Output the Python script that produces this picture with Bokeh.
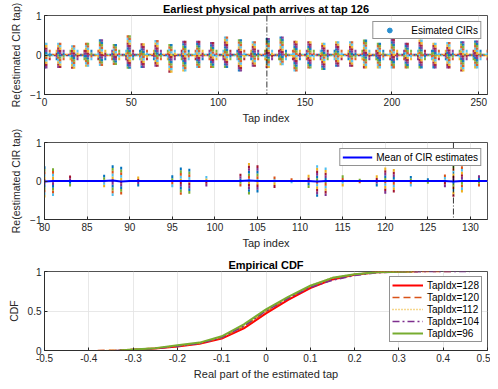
from bokeh.plotting import figure
from bokeh.layouts import column
from bokeh.models import ColumnDataSource, Span, Legend, LegendItem, Range1d, FixedTicker
from bokeh.embed import file_html
from bokeh.resources import INLINE

FONT = "Liberation Sans"
INK = "#262626"
GRID = "#e2e2e2"
SCATTER_COLORS = ["#0072BD", "#D95319", "#EDB120", "#7E2F8E", "#77AC30", "#4DBEEE", "#A2142F"]

# ---------------- data: top panel (taps 0..255) ----------------
top_title = "Earliest physical path arrives at tap 126"
top_n_taps = 256
top_cluster_taps = [0, 8, 16, 24, 32, 40, 48, 56, 64, 72, 80, 88, 96, 104, 112, 120,
                    128, 136, 144, 152, 160, 168, 176, 184, 192, 200, 208, 216, 224, 232, 240, 248]
top_cluster_hi = [0.31, 0.31, 0.25, 0.31, 0.40, 0.28, 0.50, 0.30, 0.38, 0.28, 0.36, 0.36, 0.33, 0.47, 0.40, 0.35,
                  0.43, 0.47, 0.36, 0.35, 0.31, 0.35, 0.35, 0.39, 0.31, 0.41, 0.31, 0.39, 0.31, 0.33, 0.35, 0.37]
top_cluster_lo = [-0.34, -0.33, -0.35, -0.30, -0.28, -0.25, -0.35, -0.33, -0.30, -0.45, -0.42, -0.33, -0.33, -0.33, -0.42, -0.30,
                  -0.33, -0.26, -0.42, -0.34, -0.38, -0.30, -0.30, -0.34, -0.34, -0.34, -0.34, -0.34, -0.34, -0.34, -0.42, -0.34]
top_second_offset = 1          # tap right after each cluster tap is as strong
top_minor_offsets = [3, 7]     # weaker taps inside each group of 8
top_minor_spread = 0.13
top_floor_spread = 0.03
first_path_tap = 128

# ---------------- data: middle panel (zoom on taps 80..132) ----------------
mid_taps = [80, 81, 83, 87, 88, 89, 91, 95, 96, 97, 99, 103, 104, 105, 107, 109, 111, 112, 113, 115,
            117, 119, 120, 121, 123, 125, 127, 128, 129, 131]
mid_hi = [0.38, 0.33, 0.14, 0.16, 0.41, 0.37, 0.12, 0.15, 0.35, 0.32, 0.13, 0.19, 0.47, 0.41, 0.12, 0.07, 0.16, 0.41, 0.35, 0.15,
          0.06, 0.15, 0.35, 0.31, 0.13, 0.07, 0.17, 0.40, 0.38, 0.15]
mid_lo = [-0.43, -0.39, -0.14, -0.16, -0.39, -0.35, -0.14, -0.16, -0.36, -0.33, -0.14, -0.14, -0.35, -0.30, -0.18, -0.06, -0.18, -0.41, -0.39, -0.14,
          -0.06, -0.14, -0.33, -0.30, -0.14, -0.07, -0.16, -0.41, -0.30, -0.14]
mid_floor_spread = 0.025
mean_taps = list(range(80, 133))
mean_vals = [-0.01, 0.00, 0.00, 0.00, 0.00, 0.00, 0.00, 0.00, 0.01, -0.01,
             0.00, 0.00, 0.00, 0.00, 0.00, 0.00, 0.00, 0.00, 0.00, 0.00,
             0.00, 0.00, 0.00, 0.00, 0.01, 0.00, 0.00, 0.00, 0.00, 0.00,
             0.00, 0.00, -0.01, 0.00, 0.00, 0.00, 0.00, 0.00, 0.00, 0.00,
             0.00, 0.00, 0.00, 0.00, 0.00, 0.00, 0.00, 0.00, -0.01, 0.00,
             0.00, 0.00, 0.00]

# ---------------- data: bottom panel (empirical CDFs) ----------------
cdf_labels = ["TapIdx=128", "TapIdx=120", "TapIdx=112", "TapIdx=104", "TapIdx=96"]
cdf_x_128 = [-0.33, -0.30, -0.25, -0.20, -0.15, -0.10, -0.05, 0.00, 0.05, 0.10, 0.15, 0.20, 0.25, 0.30, 0.33]
cdf_y_128 = [0.0, 0.010, 0.025, 0.050, 0.085, 0.150, 0.280, 0.470, 0.640, 0.790, 0.900, 0.960, 0.990, 0.997, 1.0]
cdf_x_120 = [-0.38, -0.34, -0.30, -0.25, -0.20, -0.15, -0.10, -0.05, 0.00, 0.05, 0.10, 0.15, 0.20, 0.25, 0.30, 0.34, 0.42]
cdf_y_120 = [0.0, 0.003, 0.012, 0.028, 0.055, 0.090, 0.160, 0.300, 0.490, 0.660, 0.810, 0.910, 0.960, 0.990, 0.997, 0.999, 1.0]
cdf_x_112 = [-0.36, -0.30, -0.25, -0.20, -0.15, -0.10, -0.05, 0.00, 0.05, 0.10, 0.15, 0.20, 0.25, 0.30, 0.35]
cdf_y_112 = [0.0, 0.014, 0.030, 0.060, 0.095, 0.170, 0.310, 0.500, 0.670, 0.820, 0.920, 0.965, 0.990, 0.998, 1.0]
cdf_x_104 = [-0.34, -0.30, -0.25, -0.20, -0.15, -0.10, -0.05, 0.00, 0.05, 0.10, 0.15, 0.20, 0.25, 0.30, 0.35, 0.46]
cdf_y_104 = [0.0, 0.010, 0.025, 0.055, 0.090, 0.165, 0.310, 0.500, 0.660, 0.800, 0.890, 0.950, 0.985, 0.996, 0.999, 1.0]
cdf_x_96 = [-0.33, -0.30, -0.25, -0.20, -0.15, -0.10, -0.05, 0.00, 0.05, 0.10, 0.15, 0.20, 0.25, 0.30, 0.33]
cdf_y_96 = [0.0, 0.012, 0.030, 0.065, 0.100, 0.180, 0.330, 0.520, 0.680, 0.820, 0.920, 0.965, 0.990, 0.998, 1.0]
cdf_xs = [cdf_x_128, cdf_x_120, cdf_x_112, cdf_x_104, cdf_x_96]
cdf_ys = [cdf_y_128, cdf_y_120, cdf_y_112, cdf_y_104, cdf_y_96]
cdf_colors = ["#FF0000", "#D95319", "#EDB120", "#7E2F8E", "#77AC30"]
cdf_dashes = ["solid", "7 4", "1 2", "7 3 2 3", "solid"]
cdf_widths = [2, 1.6, 1.6, 1.6, 2]

W = 490
LEFT = 44
RIGHT = 3


def build_strips(taps, los, his, step, phase):
    xs, ys, hs, cs = [], [], [], []
    for t, lo, hi in zip(taps, los, his):
        n = max(1, int(round((hi - lo) / step)))
        h = (hi - lo) / n
        for i in range(n):
            xs.append(t)
            ys.append(lo + h * (i + 0.5))
            hs.append(h)
            cs.append(SCATTER_COLORS[(t * phase + i * 3) % 7])
    return ColumnDataSource(dict(x=xs, y=ys, h=hs, c=cs))


def style(p):
    p.outline_line_color = INK
    p.outline_line_width = 0.8
    p.outline_line_alpha = 1
    for ax in p.axis:
        ax.axis_line_color = INK
        ax.axis_line_width = 0.8
        ax.major_tick_line_color = INK
        ax.major_tick_in = 3
        ax.major_tick_out = 0
        ax.minor_tick_line_color = None
        ax.major_label_text_font = FONT
        ax.major_label_text_font_size = "10px"
        ax.major_label_text_color = INK
        ax.axis_label_text_font = FONT
        ax.axis_label_text_font_size = "11px"
        ax.axis_label_text_font_style = "normal"
        ax.axis_label_text_color = INK
        ax.major_label_standoff = 3
        ax.axis_label_standoff = 3
    p.yaxis.axis_label_text_font_size = "10.5px"
    p.yaxis.axis_label_standoff = 5
    p.grid.grid_line_color = GRID
    p.grid.grid_line_width = 0.8
    if p.title is not None:
        p.title.text_font = FONT
        p.title.text_font_size = "11px"
        p.title.text_font_style = "bold"
        p.title.text_color = "#000000"
        p.title.align = "center"
        p.title.standoff = 1


def style_legend(leg, glyph_w, standoff):
    leg.border_line_color = INK
    leg.border_line_width = 0.8
    leg.background_fill_color = "white"
    leg.background_fill_alpha = 1
    leg.label_text_font = FONT
    leg.label_text_font_size = "10px"
    leg.label_text_color = "#000000"
    leg.padding = 2
    leg.spacing = 0
    leg.margin = 6
    leg.glyph_width = glyph_w
    leg.glyph_height = 12
    leg.label_height = 12
    leg.label_standoff = standoff
    leg.location = "top_right"


# ---------------- top panel ----------------
floor_taps, minor_taps, major_taps, major_hi, major_lo = [], [], [], [], []
special = set()
for t0, hi, lo in zip(top_cluster_taps, top_cluster_hi, top_cluster_lo):
    for off in (0, top_second_offset):
        major_taps.append(t0 + off)
        major_hi.append(hi)
        major_lo.append(lo)
        special.add(t0 + off)
    for off in top_minor_offsets:
        minor_taps.append(t0 + off)
        special.add(t0 + off)
for t in range(top_n_taps):
    if t not in special:
        floor_taps.append(t)

p1 = figure(width=W, height=126, x_range=Range1d(0, 255), y_range=Range1d(-1, 1),
            output_backend="svg", toolbar_location=None, title=top_title,
            min_border_left=LEFT, min_border_right=RIGHT, min_border_top=14, min_border_bottom=30)
src_floor = build_strips(floor_taps, [-top_floor_spread] * len(floor_taps), [top_floor_spread] * len(floor_taps), 0.03, 1)
src_minor = build_strips(minor_taps, [-top_minor_spread] * len(minor_taps), [top_minor_spread] * len(minor_taps), 0.06, 2)
src_major = build_strips(major_taps, major_lo, major_hi, 0.06, 3)
for src, w in ((src_floor, 2.0), (src_minor, 2.0), (src_major, 2.5)):
    p1.rect(x="x", y="y", width=w, height="h", width_units="screen", source=src,
            fill_color="c", fill_alpha=0.9, line_color=None)
# one blue estimate sample (first weak tap, value ~0) doubles as the legend's marker
dot = p1.scatter(x=[minor_taps[0]], y=[0.0], size=2.5, color="#2a8fd0")
p1.add_layout(Span(location=first_path_tap, dimension="height", line_color="#000000",
                   line_width=0.8, line_dash="6 2 1 2"))
p1.xaxis.ticker = FixedTicker(ticks=[0, 50, 100, 150, 200, 250])
p1.yaxis.ticker = FixedTicker(ticks=[-1, 0, 1])
p1.xaxis.axis_label = "Tap index"
p1.yaxis.axis_label = "Re(estimated CIR tap)"
style(p1)
leg1 = Legend(items=[LegendItem(label="Esimated CIRs", renderers=[dot])])
style_legend(leg1, 28, 8)
p1.add_layout(leg1)

# ---------------- middle panel ----------------
mid_set = set(mid_taps)
mid_floor_taps = [t for t in range(80, 133) if t not in mid_set]
p2 = figure(width=W, height=125, x_range=Range1d(80, 132), y_range=Range1d(-1, 1),
            output_backend="svg", toolbar_location=None,
            min_border_left=LEFT, min_border_right=RIGHT, min_border_top=16, min_border_bottom=28)
src_mfloor = build_strips(mid_floor_taps, [-mid_floor_spread] * len(mid_floor_taps),
                          [mid_floor_spread] * len(mid_floor_taps), 0.025, 2)
src_mid = build_strips(mid_taps, mid_lo, mid_hi, 0.07, 3)
p2.rect(x="x", y="y", width=2, height="h", width_units="screen", source=src_mfloor,
        fill_color="c", line_color=None)
p2.rect(x="x", y="y", width=2, height="h", width_units="screen", source=src_mid,
        fill_color="c", line_color=None)
mean_r = p2.line(x=mean_taps, y=mean_vals, line_color="#0000FF", line_width=2)
p2.add_layout(Span(location=first_path_tap, dimension="height", line_color="#000000",
                   line_width=0.8, line_dash="6 2 1 2"))
p2.xaxis.ticker = FixedTicker(ticks=list(range(80, 131, 5)))
p2.yaxis.ticker = FixedTicker(ticks=[-1, 0, 1])
p2.xaxis.axis_label = "Tap index"
p2.yaxis.axis_label = "Re(estimated CIR tap)"
style(p2)
leg2 = Legend(items=[LegendItem(label="Mean of CIR estimates", renderers=[mean_r])])
style_legend(leg2, 30, 4)
p2.add_layout(leg2)

# ---------------- bottom panel ----------------
p3 = figure(width=W, height=131, x_range=Range1d(-0.5, 0.5), y_range=Range1d(0, 1),
            output_backend="svg", toolbar_location=None, title="Empirical CDF",
            min_border_left=LEFT, min_border_right=RIGHT, min_border_top=20, min_border_bottom=30)
items = []
for lab, xs, ys, col, dash, lw in zip(cdf_labels, cdf_xs, cdf_ys, cdf_colors, cdf_dashes, cdf_widths):
    r = p3.line(x=xs, y=ys, line_color=col, line_width=lw, line_dash=dash)
    items.append(LegendItem(label=lab, renderers=[r]))
xt = [-0.5, -0.4, -0.3, -0.2, -0.1, 0, 0.1, 0.2, 0.3, 0.4, 0.5]
p3.xaxis.ticker = FixedTicker(ticks=xt)
p3.xaxis.major_label_overrides = {v: ("0" if v == 0 else f"{v:g}") for v in xt}
p3.yaxis.ticker = FixedTicker(ticks=[0, 0.5, 1])
p3.yaxis.major_label_overrides = {0: "0", 0.5: "0.5", 1: "1"}
p3.xaxis.axis_label = "Real part of the estimated tap"
p3.yaxis.axis_label = "CDF"
style(p3)
leg3 = Legend(items=items)
style_legend(leg3, 31, 4)
leg3.margin = 5
p3.add_layout(leg3)

layout = column(p1, p2, p3, spacing=0)
open("out.html", "w").write(file_html(layout, INLINE))
